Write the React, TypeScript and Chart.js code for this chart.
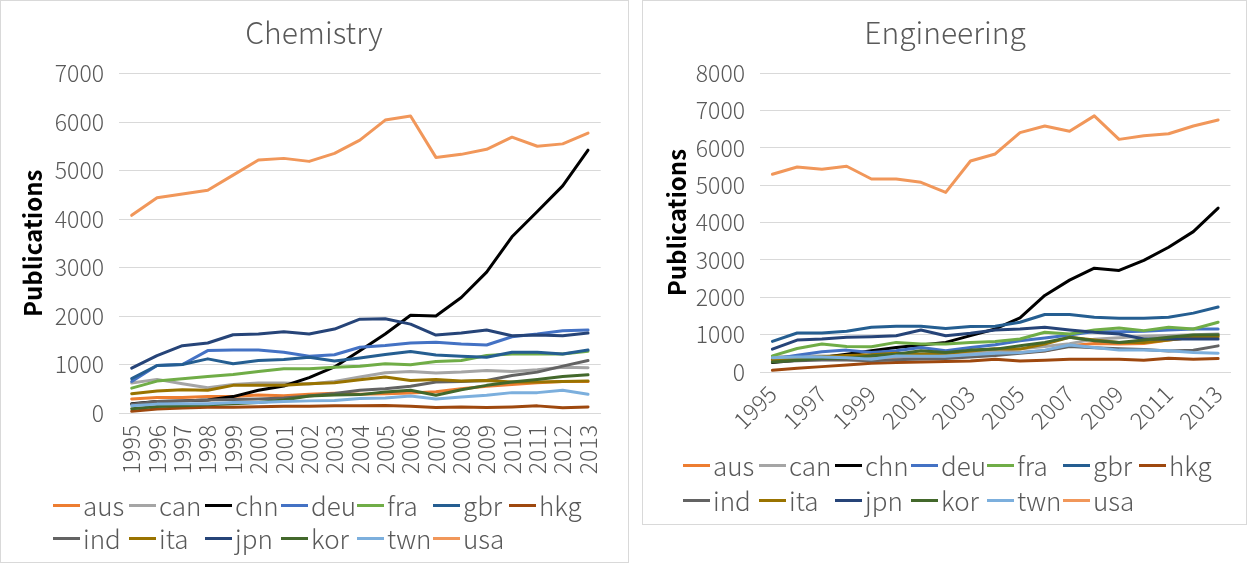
import React, { useEffect, useRef } from "react";
import { Chart, registerables } from "chart.js";

Chart.register(...registerables);

const YEARS = ["1995", "1996", "1997", "1998", "1999", "2000", "2001", "2002", "2003", "2004", "2005", "2006", "2007", "2008", "2009", "2010", "2011", "2012", "2013"];
const COUNTRIES = ["aus", "can", "chn", "deu", "fra", "gbr", "hkg", "ind", "ita", "jpn", "kor", "twn", "usa"];
const COLORS = ["#ED7D31", "#A5A5A5", "#000000", "#4472C4", "#70AD47", "#255E91", "#9E480E", "#636363", "#997300", "#264478", "#43682B", "#7CAFDD", "#F1975A"];

// Chemistry
const chemAus = [290, 318, 318, 338, 338, 372, 358, 386, 406, 386, 399, 413, 440, 502, 550, 590, 625, 652, 652];
const chemCan = [617, 693, 604, 522, 590, 617, 617, 600, 650, 741, 829, 857, 823, 843, 877, 857, 891, 945, 932];
const chemChn = [190, 239, 250, 270, 338, 470, 556, 730, 950, 1285, 1630, 2014, 2000, 2381, 2904, 3633, 4155, 4683, 5420];
const chemDeu = [650, 980, 1000, 1287, 1300, 1300, 1253, 1171, 1200, 1355, 1390, 1444, 1457, 1423, 1403, 1573, 1628, 1696, 1710];
const chemFra = [512, 658, 706, 754, 795, 857, 911, 911, 945, 966, 1014, 993, 1061, 1082, 1184, 1218, 1218, 1218, 1273];
const chemGbr = [710, 980, 1000, 1116, 1014, 1082, 1102, 1150, 1070, 1136, 1205, 1266, 1198, 1170, 1150, 1253, 1253, 1218, 1300];
const chemHkg = [36, 82, 102, 116, 116, 130, 137, 137, 150, 150, 154, 141, 113, 126, 113, 126, 147, 106, 126];
const chemInd = [183, 239, 250, 270, 280, 290, 310, 350, 400, 468, 502, 550, 638, 652, 672, 775, 843, 966, 1082];
const chemIta = [399, 454, 481, 468, 570, 570, 570, 604, 625, 686, 741, 672, 693, 659, 672, 638, 638, 652, 660];
const chemJpn = [925, 1184, 1389, 1444, 1614, 1628, 1676, 1628, 1730, 1935, 1945, 1833, 1607, 1648, 1710, 1594, 1607, 1594, 1648];
const chemKor = [88, 135, 150, 170, 190, 217, 270, 352, 372, 379, 433, 468, 365, 481, 570, 638, 693, 754, 788];
const chemTwn = [150, 183, 190, 190, 217, 217, 239, 250, 257, 297, 311, 352, 290, 331, 365, 420, 420, 468, 386];
const chemUsa = [4076, 4440, 4515, 4592, 4905, 5215, 5250, 5188, 5354, 5625, 6040, 6125, 5270, 5333, 5437, 5687, 5500, 5549, 5770];

// Engineering
const engAus = [300, 330, 360, 380, 380, 400, 420, 440, 480, 520, 523, 568, 703, 766, 748, 766, 856, 928, 973];
const engCan = [400, 420, 430, 420, 400, 430, 460, 480, 520, 560, 620, 680, 760, 880, 920, 960, 980, 1000, 1020];
const engChn = [252, 315, 387, 477, 568, 658, 721, 793, 973, 1153, 1450, 2050, 2460, 2780, 2720, 2990, 3340, 3760, 4390];
const engDeu = [342, 450, 541, 586, 523, 568, 658, 568, 658, 730, 838, 910, 991, 1081, 1081, 1090, 1126, 1153, 1153];
const engFra = [432, 631, 748, 685, 676, 793, 748, 748, 793, 820, 883, 1063, 1018, 1126, 1180, 1108, 1198, 1153, 1333];
const engGbr = [820, 1045, 1045, 1090, 1198, 1225, 1225, 1162, 1216, 1225, 1333, 1540, 1540, 1468, 1441, 1441, 1468, 1577, 1739];
const engHkg = [45, 100, 144, 189, 234, 252, 270, 279, 297, 342, 297, 315, 342, 342, 342, 315, 369, 342, 360];
const engInd = [280, 300, 320, 320, 300, 330, 350, 360, 400, 440, 500, 560, 680, 650, 620, 600, 560, 580, 700];
const engIta = [330, 360, 410, 440, 460, 500, 480, 500, 560, 620, 613, 748, 928, 856, 793, 793, 856, 928, 946];
const engJpn = [613, 856, 883, 928, 946, 973, 1126, 973, 1036, 1126, 1153, 1198, 1126, 1063, 1018, 883, 883, 883, 883];
const engKor = [270, 315, 360, 369, 432, 477, 568, 523, 586, 613, 703, 793, 928, 838, 793, 856, 928, 991, 1000];
const engTwn = [380, 400, 400, 380, 340, 430, 420, 420, 460, 500, 523, 586, 721, 658, 586, 586, 568, 523, 505];
const engUsa = [5295, 5490, 5430, 5510, 5170, 5170, 5080, 4810, 5650, 5840, 6410, 6590, 6450, 6860, 6230, 6330, 6380, 6590, 6750];

const CHEM_SERIES = [chemAus, chemCan, chemChn, chemDeu, chemFra, chemGbr, chemHkg, chemInd, chemIta, chemJpn, chemKor, chemTwn, chemUsa];
const ENG_SERIES = [engAus, engCan, engChn, engDeu, engFra, engGbr, engHkg, engInd, engIta, engJpn, engKor, engTwn, engUsa];

const FONT = '"Noto Sans CJK SC", "Noto Sans", sans-serif';
const TEXT = "#595959";
const GRID = "#D9D9D9";

type Spec = {
  title: string;
  series: number[][];
  yMax: number;
  rotation: number;
  autoSkip: boolean;
  box: { left: number; top: number; width: number; height: number };
  pad: { left: number; right: number; top: number; bottom: number };
  yWidth: number;
  xHeight: number;
  xPad: number;
  titlePad: { top: number; bottom: number };
  legendX: number;
  legendStep: number;
  legendRows: number[];
};

function LineChartBox({ spec }: { spec: Spec }) {
  const ref = useRef<HTMLCanvasElement | null>(null);
  const cw = spec.box.width - 2;
  const ch = spec.box.height - 2;

  useEffect(() => {
    if (!ref.current) return;
    const chart = new Chart(ref.current, {
      type: "line",
      data: {
        labels: YEARS,
        datasets: COUNTRIES.map((c, i) => ({
          label: c,
          data: spec.series[i],
          borderColor: COLORS[i],
          backgroundColor: COLORS[i],
          borderWidth: 3,
          pointRadius: 0,
          tension: 0,
          fill: false,
          order: COUNTRIES.length - i,
          borderJoinStyle: "round" as const,
          borderCapStyle: "round" as const,
        })),
      },
      options: {
        responsive: false,
        animation: false,
        devicePixelRatio: 1,
        layout: { padding: spec.pad },
        plugins: {
          legend: { display: false },
          tooltip: { enabled: false },
          title: {
            display: true,
            text: spec.title,
            color: TEXT,
            font: { family: FONT, size: 30, weight: "300", lineHeight: 1.2 },
            padding: spec.titlePad,
          },
        },
        scales: {
          x: {
            type: "category",
            offset: true,
            grid: { display: false, drawTicks: false },
            border: { display: true, color: GRID, width: 1 },
            ticks: {
              color: TEXT,
              font: { family: FONT, size: 23, weight: "300" },
              minRotation: spec.rotation,
              maxRotation: spec.rotation,
              autoSkip: spec.autoSkip,
              padding: spec.xPad,
            },
            afterFit: (s: any) => {
              s.height = spec.xHeight;
            },
          },
          y: {
            min: 0,
            max: spec.yMax,
            grid: { color: GRID, lineWidth: 1, drawTicks: false },
            border: { display: false },
            ticks: {
              stepSize: 1000,
              color: TEXT,
              font: { family: FONT, size: 23, weight: "300" },
              padding: 15,
              callback: (v: any) => String(v),
            },
            title: {
              display: true,
              text: "Publications",
              color: "#000000",
              font: { family: FONT, size: 24, weight: "bold", lineHeight: 1.2 },
              padding: { top: 4, bottom: 4 },
            },
            afterFit: (s: any) => {
              s.width = spec.yWidth;
            },
          },
        },
      },
    });
    return () => chart.destroy();
  }, [spec]);

  const rows = [COUNTRIES.slice(0, 7), COUNTRIES.slice(7)];

  return (
    <div
      style={{
        position: "absolute",
        left: spec.box.left,
        top: spec.box.top,
        width: spec.box.width,
        height: spec.box.height,
        boxSizing: "border-box",
        border: `1px solid ${GRID}`,
        background: "#FFFFFF",
      }}
    >
      <canvas ref={ref} width={cw} height={ch} style={{ display: "block", width: cw, height: ch }} />
      {rows.map((row, r) =>
        row.map((c, k) => {
          const idx = r * 7 + k;
          return (
            <div
              key={c}
              style={{
                position: "absolute",
                left: spec.legendX - spec.box.left - 1 + k * spec.legendStep,
                top: spec.legendRows[r] - spec.box.top - 1 - 15,
                height: 30,
                display: "flex",
                alignItems: "center",
                whiteSpace: "nowrap",
              }}
            >
              <span style={{ display: "inline-block", width: 27, height: 3, background: COLORS[idx], marginRight: 3 }} />
              <span style={{ fontFamily: FONT, fontSize: 26, fontWeight: 300, color: TEXT, lineHeight: "30px" }}>{c}</span>
            </div>
          );
        })
      )}
    </div>
  );
}

const CHEM_SPEC: Spec = {
  title: "Chemistry",
  series: CHEM_SERIES,
  yMax: 7000,
  rotation: 90,
  autoSkip: false,
  box: { left: 0, top: 0, width: 629, height: 563 },
  pad: { left: 13, right: 14, top: 0, bottom: 79 },
  yWidth: 105,
  xHeight: 70,
  xPad: 12,
  titlePad: { top: 14, bottom: 22.5 },
  legendX: 53,
  legendStep: 76,
  legendRows: [505, 538],
};

const ENG_SPEC: Spec = {
  title: "Engineering",
  series: ENG_SERIES,
  yMax: 8000,
  rotation: 45,
  autoSkip: true,
  box: { left: 642, top: 0, width: 605, height: 525 },
  pad: { left: 15, right: 14, top: 0, bottom: 82 },
  yWidth: 102,
  xHeight: 70,
  xPad: 8,
  titlePad: { top: 14, bottom: 22.3 },
  legendX: 683,
  legendStep: 76,
  legendRows: [465, 500],
};

export default function App() {
  return (
    <div style={{ position: "absolute", left: 0, top: 0, width: 1248, height: 563, background: "#FFFFFF" }}>
      <LineChartBox spec={CHEM_SPEC} />
      <LineChartBox spec={ENG_SPEC} />
    </div>
  );
}
